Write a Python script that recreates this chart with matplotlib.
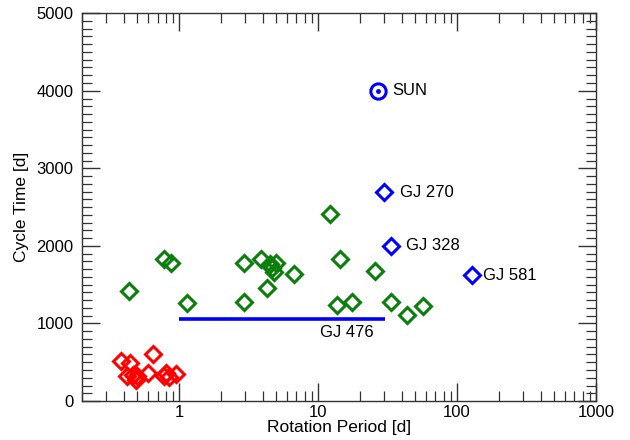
#!/usr/bin/env python3
"""
Activity cycle length against rotation period, log x-axis.
"""

import matplotlib
matplotlib.use("Agg")
import matplotlib.pyplot as plt
from matplotlib.ticker import FixedLocator, MultipleLocator, NullFormatter, FuncFormatter

# fast rotators (red)
red_prot = [0.38, 0.445, 0.654, 0.422, 0.466, 0.49, 0.597, 0.807, 0.843, 0.952, 0.78, 0.50]
red_cyc = [519, 486, 606, 326, 335, 275, 365, 357, 313, 344, 320, 320]

# intermediate sample (green)
green_prot = [0.44, 0.785, 0.877, 1.14, 2.91, 2.91, 3.87, 4.27, 4.51, 4.96, 4.83, 4.69,
              6.7, 12.2, 14.3, 13.8, 17.5, 25.8, 33.5, 43.6, 56.8]
green_cyc = [1418, 1830, 1774, 1270, 1782, 1280, 1826, 1460, 1766, 1774, 1666, 1710,
             1636, 2410, 1826, 1237, 1272, 1680, 1280, 1108, 1224]

# named stars (blue)
star_names = ["GJ 270", "GJ 328", "GJ 581"]
star_prot = [30.0, 33.5, 129.0]
star_cyc = [2690, 2000, 1624]

sun_prot, sun_cyc = 27.0, 4000

# GJ 476: cycle known, rotation only bounded
gj476_prot = [1.0, 30.5]
gj476_cyc = 1060

plt.rcParams["font.family"] = ["Liberation Sans", "DejaVu Sans"]
plt.rcParams["font.size"] = 12

fig = plt.figure(figsize=(6.3, 4.4), dpi=100)
ax = fig.add_axes([0.130, 0.0886, 0.816, 0.8814])

ax.hlines(gj476_cyc, gj476_prot[0], gj476_prot[1], color="#0000ff", lw=2.6, zorder=2)
ax.text(16, gj476_cyc - 85, "GJ 476", ha="center", va="top")

mk = dict(marker="D", ms=8.5, mew=2.2, mfc="none", ls="none", zorder=3)
ax.plot(red_prot, red_cyc, mec="#ff0000", **mk)
ax.plot(green_prot, green_cyc, mec="#0a800a", **mk)
ax.plot(star_prot, star_cyc, mec="#0000ff", **mk)
for name, p, c in zip(star_names, star_prot, star_cyc):
    dx = 7.5 if name == "GJ 581" else 11
    ax.annotate(name, (p, c), xytext=(dx, 0), textcoords="offset points",
                va="center", ha="left")

# solar symbol
ax.plot(sun_prot, sun_cyc, marker="o", ms=11, mew=2.2, mfc="none",
        mec="#0000ff", ls="none", zorder=3)
ax.plot(sun_prot, sun_cyc, marker="o", ms=2.5, color="#0000ff", ls="none", zorder=3)
ax.annotate("SUN", (sun_prot, sun_cyc), xytext=(10.5, 0), textcoords="offset points",
            va="center", ha="left")

ax.set_xscale("log")
ax.set_xlim(0.2, 1000)
ax.set_ylim(0, 5000)

ax.xaxis.set_major_locator(FixedLocator([1, 10, 100, 1000]))
ax.xaxis.set_major_formatter(FuncFormatter(lambda v, pos: f"{v:g}"))
minor = [m * 10.0 ** e for e in range(-1, 3) for m in range(2, 10)]
ax.xaxis.set_minor_locator(FixedLocator(minor))
ax.xaxis.set_minor_formatter(NullFormatter())
ax.yaxis.set_major_locator(MultipleLocator(1000))
ax.yaxis.set_minor_locator(MultipleLocator(100))

ax.tick_params(which="both", direction="in", top=True, right=True, color="#333333")
ax.tick_params(which="major", length=13, width=1.0)
ax.tick_params(which="minor", length=7, width=0.9)
ax.tick_params(axis="y", which="major", pad=6)
ax.tick_params(axis="x", which="major", pad=3)
for s in ax.spines.values():
    s.set_linewidth(1.0)
    s.set_color("#333333")

ax.set_xlabel("Rotation Period [d]", labelpad=0, fontsize=12.5)
ax.set_ylabel("Cycle Time [d]", labelpad=5, fontsize=12.5)

fig.savefig("out.png", dpi=100)
